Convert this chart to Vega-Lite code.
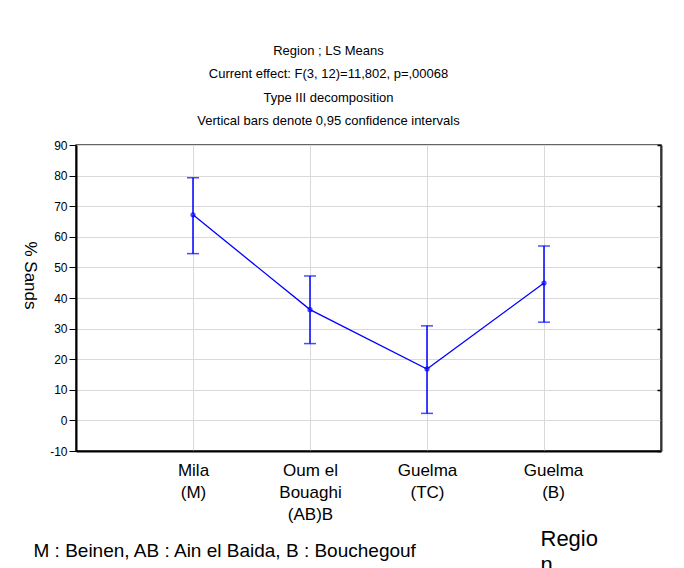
{
  "$schema": "https://vega.github.io/schema/vega-lite/v6.json",
  "width": 585,
  "height": 306,
  "autosize": "none",
  "padding": {"left": 76, "top": 145, "right": 23, "bottom": 117},
  "background": "white",
  "title": {
    "text": ["Region ; LS Means", "Current effect: F(3, 12)=11,802, p=,00068", "Type III decomposition", "Vertical bars denote 0,95 confidence intervals"],
    "font": "Liberation Sans",
    "fontSize": 13,
    "fontWeight": "normal",
    "color": "#000000",
    "lineHeight": 23.5,
    "anchor": "middle",
    "frame": "group",
    "dx": -40,
    "offset": 11
  },
  "data": {
    "values": [
      {"Region": "Mila (M)", "mean": 67.2, "lo": 54.5, "hi": 79.3},
      {"Region": "Oum el Bouaghi (AB)B", "mean": 36.2, "lo": 25.1, "hi": 47.2},
      {"Region": "Guelma (TC)", "mean": 16.8, "lo": 2.3, "hi": 30.9},
      {"Region": "Guelma (B)", "mean": 44.9, "lo": 32.1, "hi": 57.0}
    ]
  },
  "encoding": {
    "x": {
      "field": "Region",
      "type": "nominal",
      "sort": null,
      "scale": {"type": "point", "padding": 1},
      "axis": {
        "title": ["Regio", "n"],
        "titleFont": "Liberation Sans",
        "titleFontSize": 22,
        "titleFontWeight": "normal",
        "titleColor": "#000000",
        "titleLineHeight": 26,
        "titleAlign": "left",
        "titleBaseline": "alphabetic",
        "titleX": 464,
        "titleY": 94,
        "labelExpr": "datum.value == 'Oum el Bouaghi (AB)B' ? ['Oum el', 'Bouaghi', '(AB)B'] : split(datum.value, ' ')",
        "labelOffset": {"condition": {"test": "datum.value == 'Guelma (B)'", "value": 9}, "value": 0},
        "labelFont": "Liberation Sans",
        "labelFontSize": 17,
        "labelLineHeight": 22,
        "labelColor": "#000000",
        "labelAngle": 0,
        "labelPadding": 11,
        "labelBaseline": "top",
        "ticks": false,
        "domain": true,
        "domainColor": "#000000",
        "domainWidth": 2,
        "grid": true,
        "gridColor": "#d9d9d9",
        "gridWidth": 1
      }
    }
  },
  "layer": [
    {
      "encoding": {
        "y": {
          "field": "mean",
          "type": "quantitative",
          "scale": {"domain": [-10, 90], "nice": false, "zero": false},
          "axis": {
            "title": "% Sands",
            "titleFont": "Liberation Sans",
            "titleFontSize": 17,
            "titleFontWeight": "normal",
            "titleColor": "#000000",
            "titleAngle": 90,
            "titleAlign": "center",
            "titleBaseline": "middle",
            "titleX": -46.5,
            "titleY": 130,
            "values": [-10, 0, 10, 20, 30, 40, 50, 60, 70, 80, 90],
            "labelExpr": "'' + datum.value",
            "labelFont": "Liberation Sans",
            "labelFontSize": 12,
            "labelColor": "#000000",
            "labelPadding": 2,
            "tickSize": 7,
            "tickColor": "#000000",
            "tickWidth": 1,
            "domainColor": "#000000",
            "domainWidth": 2,
            "grid": true,
            "gridColor": "#d9d9d9",
            "gridWidth": 1
          }
        }
      },
      "layer": [
        {"mark": {"type": "line", "color": "#0000ff", "strokeWidth": 1.3}},
        {"mark": {"type": "point", "shape": "circle", "size": 14, "filled": false, "color": "#0000ff", "strokeWidth": 1.5}}
      ]
    },
    {
      "layer": [
        {
          "mark": {"type": "rule", "color": "#0000ff", "strokeWidth": 1.5},
          "encoding": {
            "y": {
              "field": "hi",
              "type": "quantitative",
              "scale": {"domain": [-10, 90], "nice": false, "zero": false},
              "axis": {
                "orient": "right",
                "values": [-10, 0, 10, 20, 30, 40, 50, 60, 70, 80, 90],
                "labels": false,
                "grid": false,
                "ticks": true,
                "tickSize": -4,
                "tickColor": "#000000",
                "tickWidth": 1.5,
                "domain": true,
                "domainColor": "#333333",
                "domainWidth": 2,
                "title": "M : Beinen, AB : Ain el Baida, B : Bouchegouf",
                "titleFont": "Liberation Sans",
                "titleFontSize": 19,
                "titleFontWeight": "normal",
                "titleColor": "#000000",
                "titleAngle": 0,
                "titleAlign": "left",
                "titleBaseline": "middle",
                "titleX": -628,
                "titleY": 405
              }
            },
            "y2": {"field": "lo"}
          }
        },
        {
          "mark": {"type": "tick", "color": "#0000ff", "size": 12, "thickness": 1.5, "orient": "horizontal"},
          "encoding": {"y": {"field": "hi", "type": "quantitative"}}
        },
        {
          "mark": {"type": "tick", "color": "#0000ff", "size": 12, "thickness": 1.5, "orient": "horizontal"},
          "encoding": {"y": {"field": "lo", "type": "quantitative"}}
        }
      ]
    }
  ],
  "resolve": {"scale": {"y": "independent"}},
  "config": {
    "view": {"stroke": "#333333", "strokeWidth": 1.5},
    "font": "Liberation Sans"
  }
}
